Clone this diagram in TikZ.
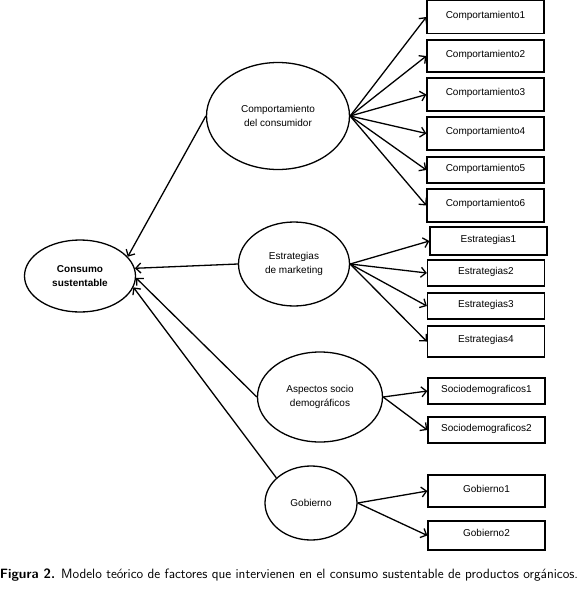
\documentclass[tikz,border=0pt]{standalone}
\usepackage{fontspec}
\setmainfont{Liberation Sans}
\usetikzlibrary{
    arrows.meta,      % For arrow tips
    shapes.geometric, % For the ellipses
    positioning
}

\begin{document}
\begin{tikzpicture}[
    x=1pt, y=-1pt,
    >={Straight Barb[length=5pt,width=10pt]}, % Open arrow tips
    factor/.style={draw, ellipse, line width=1.3pt, inner sep=0pt, align=center,
        font=\fontsize{10}{14}\selectfont}, % Style for latent factors
    item/.style={draw, rectangle, line width=1.3pt, minimum width=117pt,
        text height=7pt, text depth=5pt, font=\fontsize{10}{12}\selectfont}, % Style for indicators
    link/.style={->, line width=1.3pt} % Style for arrows
]
    \useasboundingbox (0,0) rectangle (580,595);

    % Central construct
    \node[factor, minimum width=111pt, minimum height=72pt, font=\bfseries\fontsize{10}{14}\selectfont]
        (consumo) at (80,276) {Consumo\\sustentable};

    % Factors
    \node[factor, minimum width=143pt, minimum height=107pt] (comp) at (278,116) {Comportamiento\\del consumidor};
    \node[factor, minimum width=111pt, minimum height=84pt] (estr) at (294,264) {Estrategias\\de marketing};
    \node[factor, minimum width=125pt, minimum height=90pt] (socio) at (320,397) {Aspectos socio\\demográficos};
    \node[factor, minimum width=92pt, minimum height=74pt] (gob) at (311,503) {Gobierno};

    % Indicators of Comportamiento del consumidor
    \node[item, minimum height=33pt] (comp1) at (485.5,17) {Comportamiento1};
    \node[item, minimum height=32pt] (comp2) at (485.5,56) {Comportamiento2};
    \node[item, minimum height=33pt] (comp3) at (485.5,94.5) {Comportamiento3};
    \node[item, minimum height=33pt] (comp4) at (485.5,133.5) {Comportamiento4};
    \node[item, minimum height=26pt] (comp5) at (485.5,170) {Comportamiento5};
    \node[item, minimum height=33pt] (comp6) at (485.5,205.5) {Comportamiento6};

    % Indicators of Estrategias de marketing
    \node[item, minimum height=28pt] (estr1) at (488.5,241) {Estrategias1};
    \node[item, minimum height=26pt] (estr2) at (486,273) {Estrategias2};
    \node[item, minimum height=26pt] (estr3) at (486,306) {Estrategias3};
    \node[item, minimum height=31pt] (estr4) at (486,341.5) {Estrategias4};

    % Indicators of Aspectos socio demograficos
    \node[item, minimum height=26pt] (socio1) at (486.5,391) {Sociodemograficos1};
    \node[item, minimum height=26pt] (socio2) at (486.5,430) {Sociodemograficos2};

    % Indicators of Gobierno
    \node[item, minimum height=32pt] (gob1) at (486.5,491) {Gobierno1};
    \node[item, minimum height=29pt] (gob2) at (486.5,535.5) {Gobierno2};

    % Arrows from factors to indicators
    \draw[link] (comp.east) -- (comp1.west);
    \draw[link] (comp.east) -- (comp2.west);
    \draw[link] (comp.east) -- (comp3.west);
    \draw[link] (comp.east) -- (comp4.west);
    \draw[link] (comp.east) -- (comp5.west);
    \draw[link] (comp.east) -- (comp6.west);

    \draw[link] (estr.east) -- (estr1.west);
    \draw[link] (estr.east) -- (estr2.west);
    \draw[link] (estr.east) -- (estr3.west);
    \draw[link] (estr.east) -- (estr4.west);

    \draw[link] (socio.east) -- (socio1.west);
    \draw[link] (socio.east) -- (socio2.west);

    \draw[link] (gob.east) -- (gob1.west);
    \draw[link] (gob.east) -- (gob2.west);

    % Arrows from factors to the central construct
    \draw[link] (comp.west) -- (consumo.22);
    \draw[link] (estr.west) -- (consumo.8);
    \draw[link] (socio.west) -- (consumo.-2);
    \draw[link] (gob.144) -- (consumo.-12);

    % Caption
    \node[font=\sffamily\fontsize{13.5}{16}\selectfont, anchor=base] (caption) at (289,578)
        {\textbf{Figura 2.} Modelo teórico de factores que intervienen en el consumo sustentable de productos orgánicos.};
\end{tikzpicture}
\end{document}
